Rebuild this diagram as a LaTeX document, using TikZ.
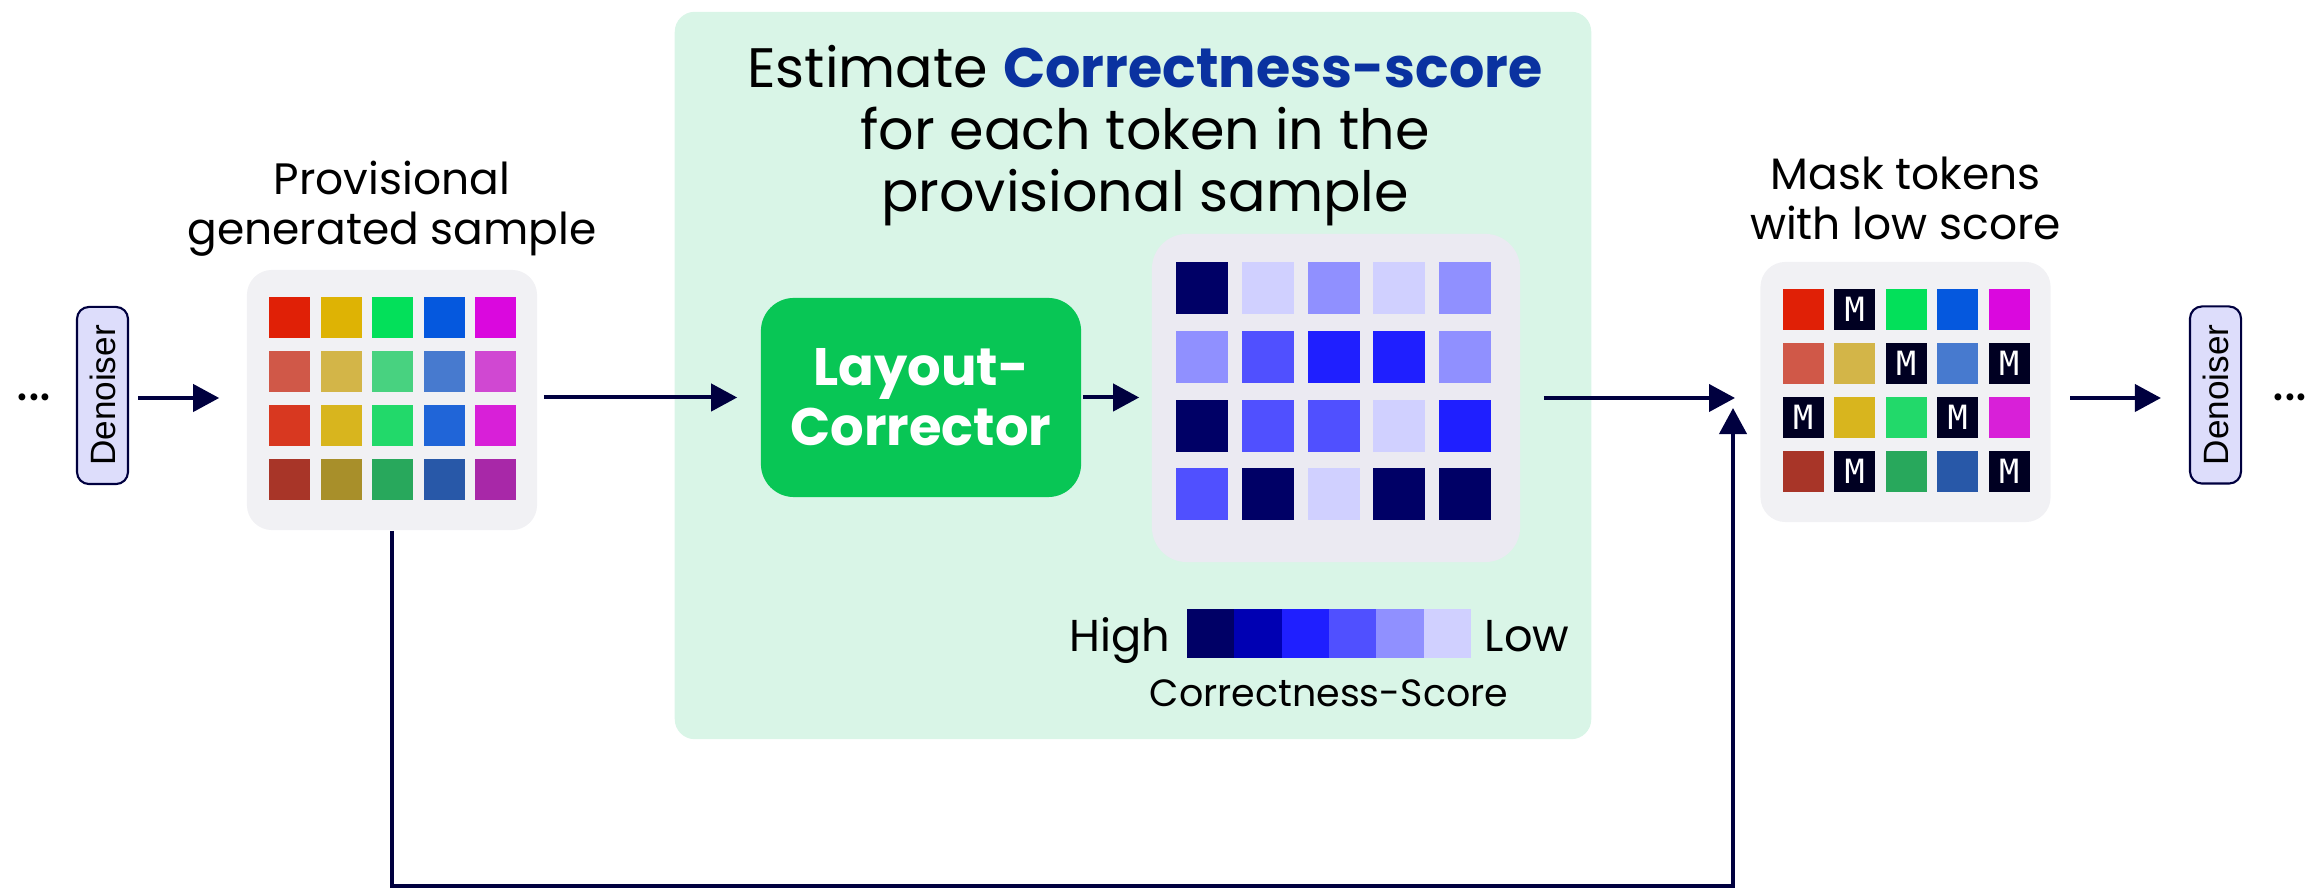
\documentclass[tikz,border=0pt]{standalone}
\usepackage{fontspec}
\setmainfont{Poppins}
\newfontfamily\denfont{Liberation Sans}
\newfontfamily\tokfont{DejaVu Sans Mono}
\usetikzlibrary{arrows.meta,positioning}

\definecolor{linec}{HTML}{00003F}
\definecolor{denfill}{HTML}{DDDDFB}
\definecolor{estfill}{HTML}{D9F5E7}
\definecolor{corrgreen}{HTML}{08C655}
\definecolor{gridfill}{HTML}{F1F1F4}
\definecolor{scorefill}{HTML}{EBEAF2}
\definecolor{headblue}{HTML}{0A32A0}
\definecolor{scA}{HTML}{000066}
\definecolor{scB}{HTML}{0000B3}
\definecolor{scC}{HTML}{1F1FFF}
\definecolor{scD}{HTML}{5050FF}
\definecolor{scE}{HTML}{9090FF}
\definecolor{scF}{HTML}{D0D0FF}

\tikzset{
  flow/.style={line width=0.04cm, draw=linec, -{Triangle[length=0.26cm,width=0.27cm]}},
  denoiser/.style={draw=linec, fill=denfill, line width=0.6pt, rounded corners=0.12cm,
    rotate=90, minimum width=1.77cm, minimum height=0.51cm, inner sep=0pt,
    font=\denfont\fontsize{10}{12}\selectfont},
  gridbox/.style={fill=gridfill, rounded corners=0.25cm, minimum width=2.9cm,
    minimum height=2.6cm, inner sep=0pt},
  tok/.style={minimum size=0.41cm, inner sep=0pt, text=white,
    font=\tokfont\fontsize{9.5}{11}\selectfont},
  sctok/.style={minimum size=0.52cm, inner sep=0pt},
  barcell/.style={minimum width=0.476cm, minimum height=0.49cm, inner sep=0pt},
  lbl/.style={align=center, font=\fontsize{12.5}{14.2}\selectfont, inner sep=0pt},
  dotsnode/.style={font=\fontsize{16}{18}\selectfont, inner sep=0pt},
}

\begin{document}
\begin{tikzpicture}[x=0.01cm,y=-0.01cm]
        \useasboundingbox (0,0) rectangle (2316,889);

        % Riquadro verde
        \node[fill=estfill, rounded corners=0.2cm, minimum width=9.16cm, minimum height=7.27cm,
              inner sep=0pt] (est) at (1133,375.5) {};
        \node[align=center, anchor=north, inner sep=0pt, font=\fontsize{15.8}{17.6}\selectfont] (head) at (1145,45)
            {Estimate \textcolor{headblue}{\textbf{Correctness-score}}\\for each token in the\\provisional sample};

        % Blocchi
        \node[dotsnode] (dotsL) at (34,397) {...};
        \node[denoiser] (denL) at (102.5,395.5) {Denoiser};
        \node[gridbox] (sample) at (392,400) {};
        \node[lbl, anchor=north] (sampletxt) at (392,160) {Provisional\\generated sample};
        \node[fill=corrgreen, rounded corners=0.33cm, minimum width=3.2cm, minimum height=1.99cm,
              text=white, align=center, font=\bfseries\fontsize{15}{17}\selectfont] (lc) at (921,397.5)
            {Layout-\\Corrector};
        \node[fill=scorefill, rounded corners=0.35cm, minimum width=3.68cm, minimum height=3.28cm,
              inner sep=0pt] (score) at (1336,398) {};
        \node[gridbox] (mask) at (1905.5,392) {};
        \node[lbl, anchor=north] (masktxt) at (1905.5,156) {Mask tokens\\with low score};
        \node[denoiser] (denR) at (2215.5,395) {Denoiser};
        \node[dotsnode] (dotsR) at (2290,397) {...};

        % Token provvisori
        \foreach \c [count=\k from 0] in {E02006,DEB304,03E05A,0558DE,DA08DE,
                                          D05848,D3B548,48D280,477ACF,D048D2,
                                          D83820,D8B51E,22D96A,2065D8,D820D8,
                                          A83528,A88F2A,28A85C,2858A8,A828A8} {
            \pgfmathtruncatemacro\row{\k/5}
            \pgfmathtruncatemacro\col{mod(\k,5)}
            \definecolor{cur}{HTML}{\c}
            \node[tok, fill=cur] (p-\row-\col) at ([shift={(43.5+51.5*\col,48+54*\row)}]sample.north west) {};
        }

        % Punteggi
        \foreach \c [count=\k from 0] in {scA,scF,scE,scF,scE,
                                          scE,scD,scC,scC,scE,
                                          scA,scD,scD,scF,scC,
                                          scD,scA,scF,scA,scA} {
            \pgfmathtruncatemacro\row{\k/5}
            \pgfmathtruncatemacro\col{mod(\k,5)}
            \node[sctok, fill=\c] (s-\row-\col) at ([shift={(51+65.7*\col,55+68.7*\row)}]score.north west) {};
        }

        % Token mascherati
        \foreach \c/\t [count=\k from 0] in {E02006/{},000022/M,03E05A/{},0558DE/{},DA08DE/{},
                                             D05848/{},D3B548/{},000022/M,477ACF/{},000022/M,
                                             000022/M,D8B51E/{},22D96A/{},000022/M,D820D8/{},
                                             A83528/{},000022/M,28A85C/{},2858A8/{},000022/M} {
            \pgfmathtruncatemacro\row{\k/5}
            \pgfmathtruncatemacro\col{mod(\k,5)}
            \definecolor{cur}{HTML}{\c}
            \node[tok, fill=cur] (m-\row-\col) at ([shift={(43.5+51.5*\col,48+54*\row)}]mask.north west) {\t};
        }

        % Scala
        \foreach \c [count=\k from 0] in {scA,scB,scC,scD,scE,scF}
            \node[barcell, fill=\c] (cb\k) at (1210.7+47.33*\k,633.5) {};
        \node[anchor=base east, inner sep=0pt, font=\fontsize{12.7}{14}\selectfont] (high) at (1171,652) {High};
        \node[anchor=base west, inner sep=0pt, font=\fontsize{12.7}{14}\selectfont] (low) at (1484,652) {Low};
        \node[anchor=base, inner sep=0pt, font=\fontsize{10.8}{13}\selectfont] (cbtxt) at (1329,706) {Correctness-Score};

        % Frecce (i Denoiser sono ruotati: south = destra, north = sinistra)
        \coordinate (join) at (1735,398);
        \coordinate (uptip) at (1733,408);
        \coordinate (floor) at (0,886);
        \draw[flow, shorten <=0.09cm, shorten >=0.27cm] (denL.south |- join) -- (sample.west |- join);
        \draw[flow, shorten <=0.06cm, shorten >=0.23cm] (sample.east |- lc) -- (lc.west);
        \draw[flow, shorten <=0.01cm, shorten >=0.12cm] (lc.east) -- (score.west |- lc);
        \draw[flow, shorten <=0.23cm] (score.east |- join) -- (join);
        \draw[flow] (sample.south) -- (sample.south |- floor) -| (uptip);
        \draw[flow, shorten <=0.19cm, shorten >=0.28cm] (mask.east |- join) -- (denR.north |- join);

    \end{tikzpicture}
\end{document}
